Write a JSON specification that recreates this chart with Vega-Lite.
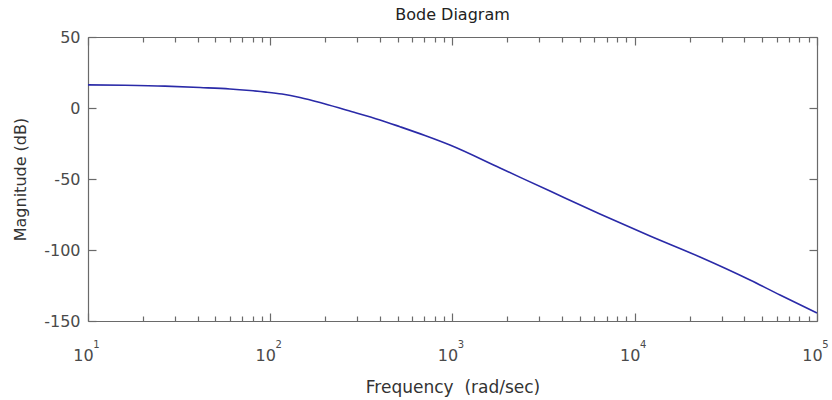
{
  "$schema": "https://vega.github.io/schema/vega-lite/v6.json",
  "autosize": "none",
  "width": 729,
  "height": 284,
  "padding": {"left": 88, "top": 37, "right": 15, "bottom": 79},
  "background": "white",
  "config": {
    "view": {"stroke": null},
    "font": "DejaVu Sans",
    "axis": {
      "grid": false,
      "domainColor": "#6a6a6a",
      "domainWidth": 1.2,
      "tickColor": "#6a6a6a",
      "tickWidth": 1.2,
      "labelFont": "DejaVu Sans",
      "labelFontSize": 16,
      "labelColor": "#4a4a4a",
      "titleFont": "DejaVu Sans",
      "titleFontWeight": "normal",
      "titleColor": "#333333",
      "labelFlush": false,
      "labelOverlap": false,
      "labelBound": false
    }
  },
  "title": {
    "text": "Bode Diagram",
    "font": "DejaVu Sans",
    "fontSize": 16,
    "fontWeight": "normal",
    "color": "#222222",
    "anchor": "middle",
    "offset": 6
  },
  "data": {
    "values": [
      {"freq": 10, "mag": 16.3},
      {"freq": 15.96, "mag": 16.0},
      {"freq": 26.45, "mag": 15.4},
      {"freq": 41.2, "mag": 14.4},
      {"freq": 60.1, "mag": 13.4},
      {"freq": 77.4, "mag": 12.3},
      {"freq": 94.8, "mag": 11.2},
      {"freq": 116, "mag": 9.8},
      {"freq": 145.6, "mag": 7.4},
      {"freq": 187.5, "mag": 3.9},
      {"freq": 263.7, "mag": -1.6},
      {"freq": 400, "mag": -8.4},
      {"freq": 515, "mag": -13.2},
      {"freq": 706, "mag": -19.4},
      {"freq": 968, "mag": -26.1},
      {"freq": 1823, "mag": -42.3},
      {"freq": 3428, "mag": -58.5},
      {"freq": 6442, "mag": -74.6},
      {"freq": 12130, "mag": -90.1},
      {"freq": 22800, "mag": -104.9},
      {"freq": 42900, "mag": -121.1},
      {"freq": 62700, "mag": -131.7},
      {"freq": 100000, "mag": -144.4}
    ]
  },
  "layer": [
    {
      "mark": {"type": "line", "color": "#2a2aa8", "strokeWidth": 1.6, "interpolate": "monotone"},
      "encoding": {
        "x": {
          "field": "freq",
          "type": "quantitative",
          "scale": {"type": "log", "domain": [10, 100000], "nice": false},
          "axis": {
            "orient": "bottom",
            "title": "Frequency \u00a0(rad/sec)",
            "titleFontSize": 17,
            "titlePadding": 16,
            "values": [10, 100, 1000, 10000, 100000],
            "tickSize": -8,
            "labelPadding": 34,
            "labelOffset": -5,
            "labelExpr": "'10'"
          }
        },
        "y": {
          "field": "mag",
          "type": "quantitative",
          "scale": {"domain": [-150, 50], "nice": false, "zero": false},
          "axis": {
            "orient": "left",
            "title": "Magnitude (dB)",
            "titleFontSize": 16,
            "values": [-150, -100, -50, 0, 50],
            "tickSize": -8,
            "labelPadding": 16,
            "titlePadding": 15,
            "labelExpr": "'' + datum.value"
          }
        }
      }
    },
    {
      "mark": {"type": "line", "opacity": 0},
      "encoding": {
        "x": {
          "field": "freq",
          "type": "quantitative",
          "axis": {
            "orient": "top",
            "title": null,
            "labels": false,
            "values": [10, 100, 1000, 10000, 100000],
            "tickSize": -8
          }
        },
        "y": {
          "field": "mag",
          "type": "quantitative",
          "axis": {
            "orient": "right",
            "title": null,
            "labels": false,
            "values": [-150, -100, -50, 0, 50],
            "tickSize": -8
          }
        }
      }
    },
    {
      "mark": {"type": "line", "opacity": 0},
      "encoding": {
        "x": {
          "field": "freq",
          "type": "quantitative",
          "axis": {
            "orient": "bottom",
            "title": null,
            "labels": false,
            "domain": false,
            "tickSize": -5,
            "values": [20, 30, 40, 50, 60, 70, 80, 90, 200, 300, 400, 500, 600, 700, 800, 900, 2000, 3000, 4000, 5000, 6000, 7000, 8000, 9000, 20000, 30000, 40000, 50000, 60000, 70000, 80000, 90000]
          }
        },
        "y": {"field": "mag", "type": "quantitative", "axis": null}
      }
    },
    {
      "mark": {"type": "line", "opacity": 0},
      "encoding": {
        "x": {
          "field": "freq",
          "type": "quantitative",
          "axis": {
            "orient": "top",
            "title": null,
            "labels": false,
            "domain": false,
            "tickSize": -5,
            "values": [20, 30, 40, 50, 60, 70, 80, 90, 200, 300, 400, 500, 600, 700, 800, 900, 2000, 3000, 4000, 5000, 6000, 7000, 8000, 9000, 20000, 30000, 40000, 50000, 60000, 70000, 80000, 90000]
          }
        },
        "y": {"field": "mag", "type": "quantitative", "axis": null}
      }
    },
    {
      "mark": {"type": "line", "opacity": 0},
      "encoding": {
        "x": {
          "field": "freq",
          "type": "quantitative",
          "axis": {
            "orient": "bottom",
            "title": null,
            "domain": false,
            "tickSize": -8,
            "tickOpacity": 0,
            "values": [10, 100, 1000, 10000, 100000],
            "labelFontSize": 10,
            "labelPadding": 26,
            "labelOffset": 8,
            "labelExpr": "'' + round(log(datum.value) / LN10)"
          }
        },
        "y": {"field": "mag", "type": "quantitative", "axis": null}
      }
    }
  ],
  "resolve": {"axis": {"x": "independent", "y": "independent"}}
}
